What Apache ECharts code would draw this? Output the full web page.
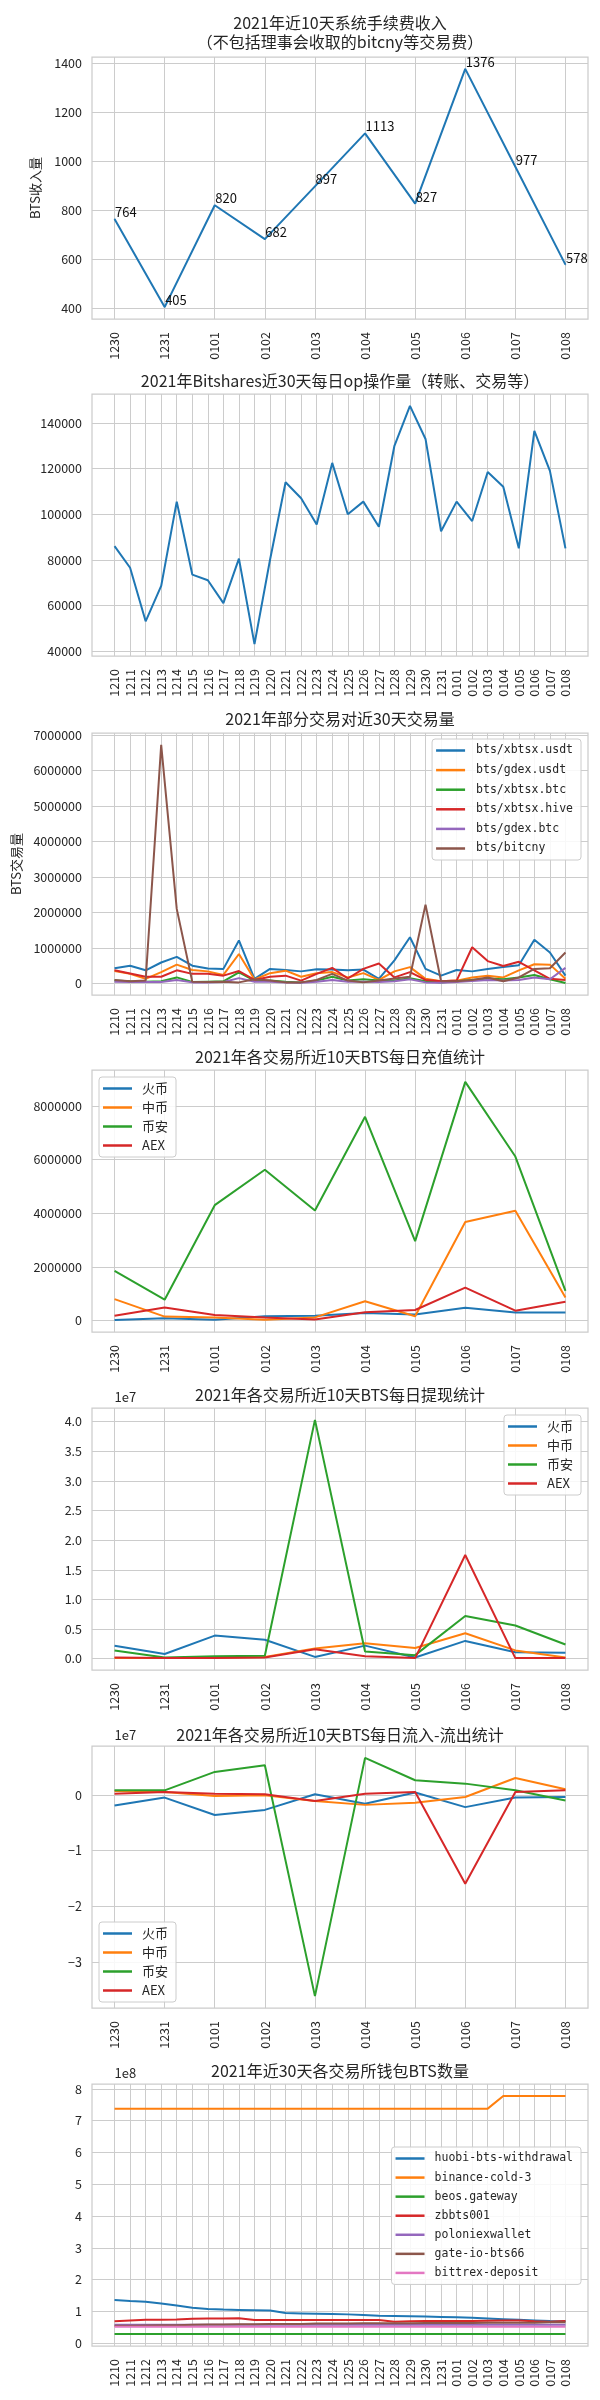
<!DOCTYPE html>
<html><head><meta charset="utf-8">
<script src="https://cdn.jsdelivr.net/npm/echarts@6/dist/echarts.min.js"></script>
<style>html,body{margin:0;padding:0;background:#fff}#c{width:600px;height:2400px}</style>
</head><body><div id="c"></div>
<script>
// ---------- DATA ----------
const days10 = ['1230','1231','0101','0102','0103','0104','0105','0106','0107','0108'];
const days30 = ['1210','1211','1212','1213','1214','1215','1216','1217','1218','1219','1220','1221','1222','1223','1224','1225','1226','1227','1228','1229','1230','1231','0101','0102','0103','0104','0105','0106','0107','0108'];

// Panel 1: fee income
const feeIncome = [764,405,820,682,897,1113,827,1376,977,578];
// Panel 2: daily op count
const opCount = [86000,76500,53000,68500,105500,73500,71000,61000,80500,43000,80000,114000,107000,95500,122500,100000,105500,94500,130000,147500,133000,92500,105500,97000,118500,112000,85000,136500,119000,85000];
// Panel 3: pair volumes
const pairNames = ['bts/xbtsx.usdt','bts/gdex.usdt','bts/xbtsx.btc','bts/xbtsx.hive','bts/gdex.btc','bts/bitcny'];
const volXbtsxUsdt = [430000,500000,370000,590000,750000,500000,420000,410000,1210000,130000,410000,380000,340000,400000,390000,370000,390000,130000,650000,1300000,410000,220000,380000,340000,410000,460000,510000,1230000,870000,220000];
const volGdexUsdt = [350000,270000,130000,320000,530000,380000,340000,240000,830000,110000,290000,360000,190000,290000,320000,170000,290000,100000,340000,460000,130000,60000,80000,170000,220000,170000,370000,540000,530000,130000];
const volXbtsxBtc = [80000,60000,50000,60000,170000,40000,50000,60000,310000,80000,80000,50000,30000,80000,190000,80000,120000,80000,80000,150000,60000,30000,60000,100000,140000,120000,170000,240000,120000,10000];
const volXbtsxHive = [370000,280000,190000,190000,370000,270000,270000,220000,350000,100000,190000,220000,80000,270000,440000,140000,410000,560000,170000,320000,100000,60000,80000,1020000,630000,490000,610000,370000,130000,100000];
const volGdexBtc = [50000,40000,40000,40000,100000,30000,30000,40000,150000,50000,50000,30000,20000,50000,100000,50000,50000,40000,60000,120000,30000,20000,40000,70000,100000,80000,100000,170000,120000,440000];
const volBitcny = [100000,60000,80000,6720000,2100000,50000,40000,50000,30000,120000,80000,30000,30000,100000,270000,80000,30000,80000,140000,190000,2220000,60000,60000,100000,170000,60000,170000,410000,430000,870000];
// Panels 4-6: exchanges
const exNames = ['火币','中币','币安','AEX'];
const depHuobi = [20000,90000,30000,160000,180000,280000,230000,480000,300000,300000];
const depZb = [800000,150000,120000,30000,120000,720000,160000,3670000,4090000,860000];
const depBinance = [1850000,780000,4300000,5620000,4100000,7590000,2960000,8890000,6110000,1110000];
const depAex = [185000,490000,210000,120000,40000,310000,395000,1230000,370000,700000];
const wdHuobi = [2200000,800000,3900000,3200000,300000,2200000,200000,3000000,1100000,1000000];
const wdZb = [100000,100000,200000,300000,1700000,2600000,1800000,4300000,1400000,200000];
const wdBinance = [1400000,200000,400000,500000,40300000,1200000,600000,7200000,5600000,2400000];
const wdAex = [200000,100000,100000,200000,1600000,400000,100000,17500000,100000,100000];
const netHuobi = [-1900000,-500000,-3600000,-2700000,100000,-1600000,400000,-2200000,-500000,-400000];
const netZb = [700000,500000,-200000,-100000,-1100000,-1800000,-1400000,-400000,3000000,1000000];
const netBinance = [800000,800000,4100000,5300000,-36000000,6600000,2600000,2000000,800000,-1000000];
const netAex = [200000,500000,200000,100000,-1100000,200000,500000,-15900000,500000,800000];
// Panel 7: wallet balances
const walletNames = ['huobi-bts-withdrawal','binance-cold-3','beos.gateway','zbbts001','poloniexwallet','gate-io-bts66','bittrex-deposit'];
const walHuobi = [136e6,133e6,131e6,125e6,119e6,112e6,108e6,106e6,105e6,104e6,103e6,95e6,94e6,93e6,92e6,91e6,89e6,87e6,86e6,85e6,84e6,83e6,82e6,80e6,78e6,76e6,74e6,72e6,70e6,69e6];
const walBinance = [738e6,738e6,738e6,738e6,738e6,738e6,738e6,738e6,738e6,738e6,738e6,738e6,738e6,738e6,738e6,738e6,738e6,738e6,738e6,738e6,738e6,738e6,738e6,738e6,738e6,778e6,778e6,778e6,778e6,778e6];
const walBeos = [29e6,29e6,29e6,29e6,29e6,29e6,29e6,29e6,29e6,29e6,29e6,29e6,29e6,29e6,29e6,29e6,29e6,29e6,29e6,29e6,29e6,29e6,29e6,29e6,29e6,29e6,29e6,29e6,29e6,29e6];
const walZb = [69e6,72e6,74e6,74e6,75e6,77e6,78e6,78e6,79e6,73e6,73e6,73e6,73e6,73e6,73e6,73e6,73e6,73e6,68e6,69e6,70e6,70e6,70e6,70e6,71e6,72e6,72e6,69e6,68e6,70e6];
const walPolo = [58e6,58e6,58e6,58e6,58e6,58e6,58e6,58e6,58e6,58e6,58e6,58e6,58e6,58e6,58e6,58e6,58e6,58e6,58e6,58e6,58e6,58e6,58e6,58e6,58e6,58e6,58e6,58e6,58e6,58e6];
const walGate = [55e6,55e6,56e6,57e6,57e6,58e6,59e6,59e6,60e6,60e6,61e6,61e6,61e6,62e6,62e6,62e6,63e6,63e6,63e6,63e6,64e6,64e6,64e6,64e6,65e6,65e6,65e6,65e6,66e6,66e6];
const walBittrex = [52e6,52e6,52e6,52e6,52e6,52e6,52e6,52e6,52e6,52e6,52e6,52e6,52e6,52e6,52e6,52e6,52e6,52e6,52e6,52e6,52e6,52e6,52e6,52e6,52e6,52e6,52e6,52e6,52e6,52e6];

// tick labels
const ticksP1 = [400,600,800,1000,1200,1400];
const ticksP2 = [40000,60000,80000,100000,120000,140000];
const ticksP3 = [0,1000000,2000000,3000000,4000000,5000000,6000000,7000000];
const ticksP4 = [0,2000000,4000000,6000000,8000000];
const ticksP5 = [0,5e6,10e6,15e6,20e6,25e6,30e6,35e6,40e6];
const ticksP6 = [-30e6,-20e6,-10e6,0];
const ticksP7 = [0,1e8,2e8,3e8,4e8,5e8,6e8,7e8,8e8];

const titles = [
  '2021年近10天系统手续费收入\n（不包括理事会收取的bitcny等交易费）',
  '2021年Bitshares近30天每日op操作量（转账、交易等）',
  '2021年部分交易对近30天交易量',
  '2021年各交易所近10天BTS每日充值统计',
  '2021年各交易所近10天BTS每日提现统计',
  '2021年各交易所近10天BTS每日流入-流出统计',
  '2021年近30天各交易所钱包BTS数量'
];

// ---------- STYLE ----------
const FONT = '"Noto Sans CJK SC", sans-serif';
const MONO = '"DejaVu Sans Mono", monospace';
const TXT = '#262626';
const GRIDC = '#cccccc';
const COLORS = ['#1f77b4','#ff7f0e','#2ca02c','#d62728','#9467bd','#8c564b','#e377c2'];
const GL = 92, GW = 496, GH = 262;
const tops = [57,394,733,1070,1408,1746,2084];
const titleTops = [13,371,709,1047,1385,1725,2061];
const TICKFS = 12.5;

const grids = tops.map(t => ({left:GL, top:t, width:GW, height:GH, show:true, borderColor:GRIDC, borderWidth:1.25, backgroundColor:'#fff'}));

function xAxisFor(i, cats){
  const n = cats.length, m = 0.05*(n-1);
  const idx = cats.map((_,k)=>k);
  return {type:'value', gridIndex:i, min:-m, max:n-1+m,
    axisLine:{show:false}, axisTick:{show:false, customValues:idx},
    axisLabel:{customValues:idx, formatter:v=>cats[Math.round(v)], rotate:90, margin:13,
      fontSize:TICKFS, color:TXT, fontFamily:FONT},
    splitLine:{show:true, lineStyle:{color:GRIDC, width:1}}};
}
function yAxisFor(i, ticks, fmt, extra){
  return Object.assign({type:'value', gridIndex:i,
    min:v=>v.min-0.05*(v.max-v.min), max:v=>v.max+0.05*(v.max-v.min),
    axisLine:{show:false}, axisTick:{show:false, customValues:ticks},
    axisLabel:{customValues:ticks, formatter:fmt, margin:10, fontSize:TICKFS, color:TXT, fontFamily:FONT},
    splitLine:{show:true, lineStyle:{color:GRIDC, width:1}},
    nameTextStyle:{fontSize:13, color:TXT, fontFamily:FONT}}, extra||{});
}
function line(i, name, vals, color, extra){
  return Object.assign({type:'line', name:name, xAxisIndex:i, yAxisIndex:i,
    data:vals.map((v,k)=>[k,v]), showSymbol:false, symbol:'none', smooth:false,
    lineStyle:{color:color, width:2}, itemStyle:{color:color},
    emphasis:{disabled:true}, animation:false, z:3}, extra||{});
}
function legendFor(names, pos, font, fsize, textPad, gap){
  return Object.assign({data:names, orient:'vertical', icon:'rect', itemWidth:29, itemHeight:2.5,
    itemGap:gap, padding:[4.5,8,4.5,4], borderColor:GRIDC, borderWidth:1, borderRadius:3,
    backgroundColor:'rgba(255,255,255,0.85)', selectedMode:false,
    textStyle:{fontFamily:font, fontSize:fsize, color:TXT, lineHeight:14, padding:[0,0,0,textPad]}}, pos);
}

const plain = v => String(v);
const option = {
  backgroundColor:'#fff',
  animation:false,
  title: titles.map((t,i)=>({text:t, left:340, top:titleTops[i], textAlign:'center', padding:0,
    textStyle:{fontSize:16, fontWeight:'normal', color:TXT, fontFamily:FONT, lineHeight:19}})),
  grid: grids,
  xAxis: [xAxisFor(0,days10), xAxisFor(1,days30), xAxisFor(2,days30), xAxisFor(3,days10), xAxisFor(4,days10), xAxisFor(5,days10), xAxisFor(6,days30)],
  yAxis: [
    yAxisFor(0, ticksP1, plain, {name:'BTS收入量', nameLocation:'middle', nameGap:50}),
    yAxisFor(1, ticksP2, plain),
    yAxisFor(2, ticksP3, plain, {name:'BTS交易量', nameLocation:'middle', nameGap:67}),
    yAxisFor(3, ticksP4, plain),
    yAxisFor(4, ticksP5, v=>(v/1e7).toFixed(1), {name:'1e7', nameLocation:'end', nameGap:4,
      nameTextStyle:{fontSize:13, color:TXT, fontFamily:FONT, align:'left'}}),
    yAxisFor(5, ticksP6, v=>v===0?'0':String(Math.round(v/1e7)).replace('-','−'), {name:'1e7', nameLocation:'end', nameGap:4,
      nameTextStyle:{fontSize:13, color:TXT, fontFamily:FONT, align:'left'}}),
    yAxisFor(6, ticksP7, v=>String(Math.round(v/1e8)), {name:'1e8', nameLocation:'end', nameGap:4,
      nameTextStyle:{fontSize:13, color:TXT, fontFamily:FONT, align:'left'}})
  ],
  legend: [
    legendFor(pairNames, {right:19, top:739}, MONO, 11.5, 6, 5.6),
    legendFor(exNames, {left:99, top:1077}, FONT, 13, 5, 5),
    legendFor(exNames, {right:19, top:1415}, FONT, 13, 5, 5),
    legendFor(exNames, {left:99, top:1922}, FONT, 13, 5, 5),
    legendFor(walletNames, {right:19, top:2147}, MONO, 11.5, 5, 5.07)
  ],
  series: [
    line(0, 'fee', feeIncome, COLORS[0], {showSymbol:true, symbol:'circle', symbolSize:1,
      label:{show:true, position:'right', distance:0, offset:[0,-7], formatter:p=>String(p.value[1]),
        fontSize:13, color:'#111', fontFamily:FONT}}),
    line(1, 'op', opCount, COLORS[0]),
    line(2, pairNames[0], volXbtsxUsdt, COLORS[0]),
    line(2, pairNames[1], volGdexUsdt, COLORS[1]),
    line(2, pairNames[2], volXbtsxBtc, COLORS[2]),
    line(2, pairNames[3], volXbtsxHive, COLORS[3]),
    line(2, pairNames[4], volGdexBtc, COLORS[4]),
    line(2, pairNames[5], volBitcny, COLORS[5]),
    line(3, exNames[0], depHuobi, COLORS[0]),
    line(3, exNames[1], depZb, COLORS[1]),
    line(3, exNames[2], depBinance, COLORS[2]),
    line(3, exNames[3], depAex, COLORS[3]),
    line(4, exNames[0], wdHuobi, COLORS[0]),
    line(4, exNames[1], wdZb, COLORS[1]),
    line(4, exNames[2], wdBinance, COLORS[2]),
    line(4, exNames[3], wdAex, COLORS[3]),
    line(5, exNames[0], netHuobi, COLORS[0]),
    line(5, exNames[1], netZb, COLORS[1]),
    line(5, exNames[2], netBinance, COLORS[2]),
    line(5, exNames[3], netAex, COLORS[3]),
    line(6, walletNames[0], walHuobi, COLORS[0]),
    line(6, walletNames[1], walBinance, COLORS[1]),
    line(6, walletNames[2], walBeos, COLORS[2]),
    line(6, walletNames[3], walZb, COLORS[3]),
    line(6, walletNames[4], walPolo, COLORS[4]),
    line(6, walletNames[5], walGate, COLORS[5]),
    line(6, walletNames[6], walBittrex, COLORS[6])
  ]
};
const chart = echarts.init(document.getElementById('c'), null, {renderer:'canvas', width:600, height:2400});
chart.setOption(option);
</script>
</body></html>
